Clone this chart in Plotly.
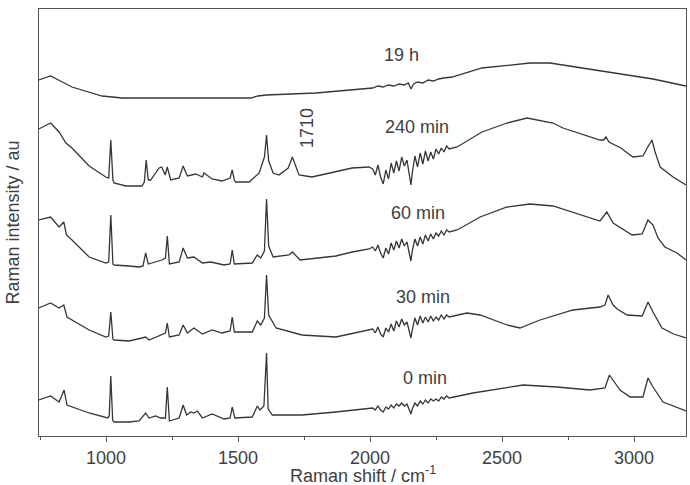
import plotly.graph_objects as go

# ---------------- data (Raman shift in cm-1, intensity in arbitrary units, offsets included) -------------
noise_x = [2010, 2020, 2030, 2040, 2050, 2060, 2070, 2080, 2090, 2100, 2110, 2120, 2130, 2140, 2150, 2155,
           2160, 2170, 2180, 2190, 2200, 2210, 2220, 2230, 2240, 2250, 2260, 2270, 2280, 2290, 2300]

x_19h = [745, 790, 871, 985, 1061, 1280, 1549, 1575, 1606, 1795, 1996, 2010, 2030, 2050, 2070, 2090, 2110,
         2130, 2145, 2155, 2165, 2180, 2200, 2220, 2240, 2260, 2280, 2311, 2424, 2519, 2606, 2682, 2800,
         2920, 3072, 3197]
y_19h = [356, 360, 349, 340, 338, 338, 338, 340, 341, 343, 348, 348, 350, 349, 351, 350, 352,
         351, 353, 347, 352, 354, 353, 356, 355, 357, 358, 359, 368, 371, 373, 373, 368,
         363, 357, 350]

x_240_low = [745, 790, 822, 840, 848, 871, 936, 999, 1010, 1018, 1026, 1030, 1075, 1136, 1145, 1152, 1160,
             1169, 1201, 1211, 1224, 1232, 1245, 1277, 1292, 1308, 1340, 1365, 1371, 1402, 1439, 1470, 1478,
             1486, 1491, 1542, 1580, 1600, 1608, 1616, 1633, 1655, 1690, 1706, 1731, 1780, 1850, 1932, 1996]
y_240_low = [307, 313, 304, 296, 293, 288, 270, 259, 258, 296, 256, 253, 250, 250, 254, 276, 256,
             256, 268, 269, 261, 269, 256, 258, 270, 260, 262, 259, 263, 257, 255, 258, 266,
             256, 254, 254, 263, 279, 301, 275, 263, 261, 268, 279, 261, 259, 263, 268, 269]
y_240_noise = [267, 261, 271, 259, 252, 266, 257, 273, 263, 275, 265, 279, 270, 276, 259, 251,
               263, 280, 269, 283, 272, 285, 275, 284, 277, 287, 282, 288, 284, 290, 287]
x_240_high = [2330, 2424, 2519, 2595, 2693, 2731, 2800, 2871, 2885, 2894, 2905, 2950, 2996, 3034, 3050,
              3068, 3080, 3099, 3148, 3197]
y_240_high = [289, 304, 313, 318, 313, 308, 302, 296, 296, 299, 294, 288, 279, 280, 288,
              296, 284, 269, 259, 251]

x_60_low = [745, 790, 822, 840, 850, 871, 936, 999, 1010, 1018, 1026, 1030, 1087, 1125, 1140, 1150, 1160,
            1188, 1212, 1225, 1232, 1240, 1277, 1292, 1308, 1333, 1365, 1397, 1447, 1470, 1478, 1486,
            1554, 1573, 1586, 1600, 1608, 1616, 1633, 1693, 1706, 1735, 1871, 1932, 1996]
y_60_low = [216, 219, 209, 214, 201, 196, 179, 173, 174, 221, 172, 171, 170, 169, 170, 183, 172,
            174, 176, 178, 200, 172, 174, 188, 178, 179, 173, 174, 171, 172, 186, 172,
            173, 181, 178, 185, 237, 190, 179, 181, 184, 176, 180, 184, 187]
y_60_noise = [189, 185, 191, 183, 178, 188, 182, 193, 186, 195, 188, 197, 190, 194, 181, 175,
              185, 197, 190, 199, 192, 201, 195, 202, 197, 203, 200, 205, 201, 206, 204]
x_60_high = [2330, 2417, 2519, 2606, 2693, 2871, 2897, 2921, 2993, 3031, 3053, 3072, 3091, 3117, 3163, 3197]
y_60_high = [206, 219, 229, 232, 230, 215, 224, 213, 201, 202, 216, 211, 198, 189, 183, 176]

x_30_low = [745, 790, 822, 840, 852, 936, 999, 1010, 1018, 1026, 1030, 1087, 1136, 1150, 1163, 1212, 1225,
            1232, 1240, 1277, 1292, 1308, 1333, 1365, 1402, 1439, 1470, 1478, 1486, 1554, 1573, 1586,
            1600, 1608, 1616, 1644, 1742, 1871, 1996]
y_30_low = [128, 133, 128, 131, 119, 106, 99, 100, 124, 97, 96, 95, 98, 99, 96, 101, 103,
            113, 99, 101, 111, 103, 108, 102, 106, 103, 105, 119, 104, 104, 115, 111,
            118, 161, 121, 108, 101, 99, 106]
y_30_noise = [107, 103, 109, 102, 99, 108, 104, 112, 105, 115, 109, 117, 111, 114, 102, 98,
              106, 118, 111, 120, 113, 119, 114, 120, 115, 119, 116, 121, 117, 121, 119]
x_30_high = [2367, 2417, 2519, 2568, 2644, 2769, 2871, 2890, 2902, 2921, 2936, 2974, 3031, 3053, 3072,
             3106, 3150, 3197]
y_30_high = [123, 121, 111, 108, 116, 126, 129, 131, 141, 131, 127, 121, 120, 134, 124,
             108, 102, 98]

x_0_low = [745, 790, 822, 841, 852, 936, 1006, 1012, 1018, 1025, 1030, 1087, 1125, 1150, 1163, 1188, 1207,
           1225, 1232, 1240, 1277, 1292, 1305, 1321, 1333, 1346, 1365, 1402, 1447, 1470, 1478, 1488,
           1554, 1573, 1583, 1598, 1608, 1614, 1630, 1742, 1871, 1996]
y_0_low = [36, 40, 34, 46, 31, 23, 18, 20, 60, 16, 14, 14, 15, 23, 18, 20, 18,
           18, 49, 15, 18, 31, 21, 24, 23, 25, 18, 22, 17, 18, 29, 18,
           19, 30, 26, 30, 83, 27, 21, 21, 24, 28]
y_0_noise = [28, 26, 30, 26, 24, 29, 27, 31, 28, 32, 30, 33, 30, 32, 25, 22,
             27, 33, 30, 35, 32, 36, 33, 37, 35, 37, 35, 39, 37, 40, 38]
x_0_high = [2390, 2580, 2708, 2833, 2890, 2907, 2915, 2920, 2947, 2985, 3034, 3053, 3072, 3110, 3197]
y_0_high = [43, 51, 49, 46, 48, 61, 58, 56, 46, 39, 39, 58, 49, 34, 25]

labels = ["19 h", "240 min", "60 min", "30 min", "0 min"]
label_x = [2121, 2178, 2182, 2201, 2208]
label_y = [381, 309, 223, 139, 58]
peak_label = "1710"
x_ticks = [1000, 1500, 2000, 2500, 3000]

# ---------------- figure -------------
spectra = [
    (x_19h, y_19h),
    (x_240_low + noise_x + x_240_high, y_240_low + y_240_noise + y_240_high),
    (x_60_low + noise_x + x_60_high, y_60_low + y_60_noise + y_60_high),
    (x_30_low + noise_x + x_30_high, y_30_low + y_30_noise + y_30_high),
    (x_0_low + noise_x + x_0_high, y_0_low + y_0_noise + y_0_high),
]

FONT = "Liberation Sans, Arial, Helvetica, sans-serif"
TXT = "#404040"
FS = 18

fig = go.Figure()
for (xs, ys), name in zip(spectra, labels):
    fig.add_trace(go.Scatter(x=xs, y=ys, mode="lines", name=name,
                             line=dict(color="#363636", width=1.3), showlegend=False))

for t, xv, yv in zip(labels, label_x, label_y):
    fig.add_annotation(x=xv, y=yv, text=t, showarrow=False,
                       font=dict(family=FONT, size=FS, color=TXT))
fig.add_annotation(x=1761, y=308, text=peak_label, textangle=-90, showarrow=False,
                   font=dict(family=FONT, size=FS, color=TXT))

fig.add_annotation(xref="paper", yref="paper", x=0.5, y=0, yshift=-38, yanchor="middle",
                   text="Raman shift / cm<sup>-1</sup>", showarrow=False,
                   font=dict(family=FONT, size=FS, color=TXT))
fig.add_annotation(xref="paper", yref="paper", x=0, y=0.5, xshift=-27, xanchor="center",
                   text="Raman intensity / au", textangle=-90, showarrow=False,
                   font=dict(family=FONT, size=FS, color=TXT))

fig.update_layout(
    width=690, height=485,
    margin=dict(l=39, r=4, t=9, b=49),
    paper_bgcolor="white", plot_bgcolor="white",
    font=dict(family=FONT, size=FS, color=TXT),
)
fig.update_xaxes(range=[746, 3197], tickvals=x_ticks, ticks="outside", ticklen=5, tickwidth=1.2,
                 tickcolor="#555", showgrid=False, zeroline=False,
                 showline=True, linecolor="#555", linewidth=1.3, mirror=True,
                 tickfont=dict(family=FONT, size=FS, color=TXT),
                 minor=dict(tickvals=[750, 1250, 1750, 2250, 2750], ticks="outside", ticklen=3,
                            tickcolor="#555", showgrid=False))
fig.update_yaxes(range=[0, 427], showticklabels=False, ticks="", showgrid=False, zeroline=False,
                 showline=True, linecolor="#555", linewidth=1.3, mirror=True)

fig.write_html("out.html")
